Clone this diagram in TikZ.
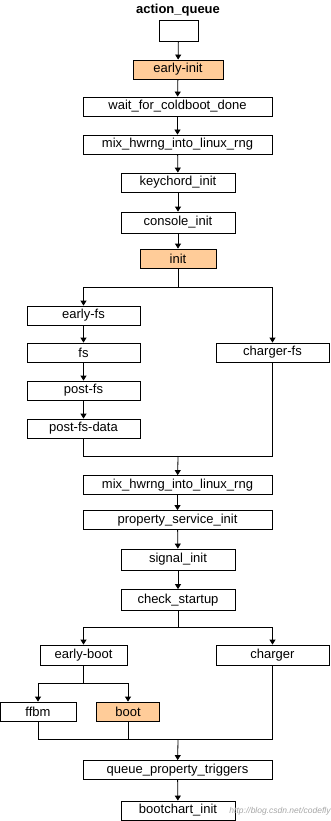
\documentclass[tikz,border=0pt]{standalone}
\usepackage{fontspec}
\setmainfont{Liberation Sans}
\usepackage{tikz}
\usetikzlibrary{arrows.meta}

\begin{document}
\begin{tikzpicture}[
  x=1pt, y=-1pt,
  font=\fontsize{13}{15}\selectfont,
  line width=0.8pt,
  box/.style={draw, minimum height=19pt, inner sep=0pt},
  hot/.style={box, fill=orange!40!white},
  arr/.style={-{Triangle[length=5pt, width=6pt]}}]
\useasboundingbox (0,0) rectangle (330,821);
% queue head
\node[font=\fontsize{13}{15}\selectfont\bfseries] (title) at (178,10) {action\_queue};
\node[box, minimum width=39pt, minimum height=21pt] (head) at (178.5,30.5) {};
% early stages
\node[hot, minimum width=90pt] (earlyinit) at (178,69.5) {early-init};
\node[box, minimum width=189pt] (coldboot) at (177.5,106.5) {wait\_for\_coldboot\_done};
\node[box, minimum width=189pt] (hwrng) at (177.5,144.5) {mix\_hwrng\_into\_linux\_rng};
\node[box, minimum width=114pt] (keychord) at (178,182.5) {keychord\_init};
\node[box, minimum width=114pt, minimum height=21pt] (console) at (178,222.5) {console\_init};
\node[hot, minimum width=76pt] (init) at (178,258.5) {init};
\draw[arr] (head) -- (earlyinit);
\draw[arr] (earlyinit) -- (coldboot);
\draw[arr] (coldboot) -- (hwrng);
\draw[arr] (hwrng) -- (keychord);
\draw[arr] (keychord) -- (console);
\draw[arr] (console) -- (init);
% fs stages
\node[box, minimum width=113pt] (earlyfs) at (83.5,315.5) {early-fs};
\node[box, minimum width=113pt] (fs) at (83.5,352.5) {fs};
\node[box, minimum width=113pt] (postfs) at (83.5,390.5) {post-fs};
\node[box, minimum width=113pt] (postfsdata) at (83.5,428.5) {post-fs-data};
\node[box, minimum width=113pt] (chargerfs) at (272.5,352.5) {charger-fs};
\coordinate (forkfs) at (178,287);
\draw (init) -- (forkfs);
\draw[arr] (forkfs) -| (earlyfs);
\draw[arr] (forkfs) -| (chargerfs);
\draw[arr] (earlyfs) -- (fs);
\draw[arr] (fs) -- (postfs);
\draw[arr] (postfs) -- (postfsdata);
% services
\node[box, minimum width=189pt] (hwrngtwo) at (177.5,485) {mix\_hwrng\_into\_linux\_rng};
\node[box, minimum width=189pt] (propsvc) at (177.5,520) {property\_service\_init};
\node[box, minimum width=114pt, minimum height=21pt] (signal) at (178,559.5) {signal\_init};
\node[box, minimum width=114pt, minimum height=21pt] (startup) at (178,600) {check\_startup};
\coordinate (joinfs) at (178,456);
\draw (postfsdata) |- (joinfs);
\draw (chargerfs) |- (joinfs);
\draw[arr] (joinfs) -- (hwrngtwo);
\draw[arr] (hwrngtwo) -- (propsvc);
\draw[arr] (propsvc) -- (signal);
\draw[arr] (signal) -- (startup);
% boot stages
\node[box, minimum width=87pt, minimum height=20pt] (earlyboot) at (83.5,655) {early-boot};
\node[box, minimum width=113pt, minimum height=20pt] (charger) at (272.5,655) {charger};
\node[box, minimum width=76pt] (ffbm) at (38,711.5) {ffbm};
\node[hot, minimum width=63pt] (boot) at (128,711.5) {boot};
\coordinate (forkboot) at (178,627);
\draw (startup) -- (forkboot);
\draw[arr] (forkboot) -| (earlyboot);
\draw[arr] (forkboot) -| (charger);
\coordinate (forkmode) at (83.5,683);
\draw (earlyboot) -- (forkmode);
\draw[arr] (forkmode) -| (ffbm);
\draw[arr] (forkmode) -| (boot);
% triggers
\node[box, minimum width=189pt] (triggers) at (177.5,770) {queue\_property\_triggers};
\node[box, minimum width=114pt] (bootchart) at (178,810.5) {bootchart\_init};
\coordinate (joinboot) at (178,739);
\draw (ffbm) |- (joinboot);
\draw (boot) |- (joinboot);
\draw (charger) |- (joinboot);
\draw[arr] (joinboot) -- (triggers);
\draw[arr] (triggers) -- (bootchart);
\node[anchor=east, inner sep=0pt, text=black!35, font=\fontsize{8.5}{10}\selectfont\itshape] (mark) at (331,811) {http://blog.csdn.net/codefly};
\end{tikzpicture}
\end{document}
